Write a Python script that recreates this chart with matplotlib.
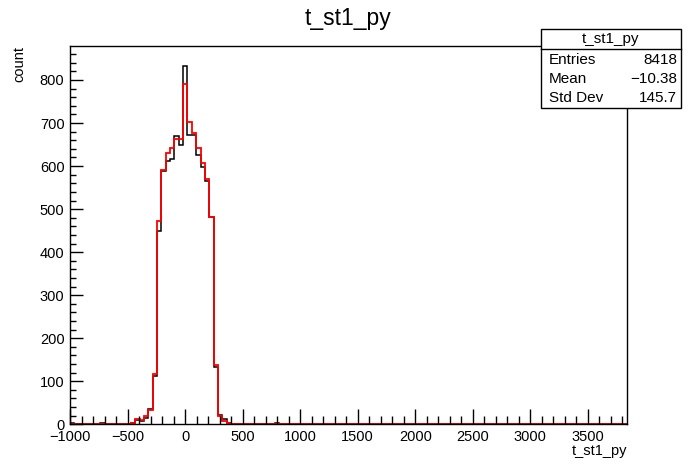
import numpy as np
import matplotlib
matplotlib.use("Agg")
import matplotlib.pyplot as plt
from matplotlib.patches import Rectangle
from matplotlib.ticker import MultipleLocator

plt.rcParams['font.family'] = ['Liberation Sans', 'DejaVu Sans']

# histogram binning: 128 bins from -1000 to 3840
x_min, x_max, n_bins = -1000, 3840, 128

# non-empty bins (index) and counts
bin_index = [0, 7, 14, 15, 16, 17, 18, 19, 20, 21, 22, 23, 24, 25, 26,
             27, 28, 29, 30, 31, 32, 33, 34, 35, 36, 37, 47]
black_counts = [2, 2, 3, 10, 7, 15, 36, 113, 448, 588, 611, 616, 671, 648, 833,
                672, 673, 625, 599, 565, 481, 132, 22, 12, 3, 1, 2]
red_counts = [1, 1, 4, 12, 9, 19, 33, 116, 472, 592, 630, 641, 662, 662, 791,
              702, 676, 641, 606, 569, 481, 138, 19, 8, 4, 1, 0]

stat_names = ["Entries", "Mean", "Std Dev"]
stat_values = ["8418", "\u221210.38", "145.7"]
hist_name = "t_st1_py"

edges = np.linspace(x_min, x_max, n_bins + 1)
h_black = np.zeros(n_bins)
h_red = np.zeros(n_bins)
h_black[bin_index] = black_counts
h_red[bin_index] = red_counts

fig = plt.figure(figsize=(6.96, 4.72), dpi=100)
W, H = 696.0, 472.0
ax = fig.add_axes([70 / W, 1 - 424.3 / H, (627 - 70) / W, (424.3 - 46) / H])

ax.stairs(h_black, edges, color='black', linewidth=1.1)
ax.stairs(h_red, edges, color='red', linewidth=1.3, clip_on=False)

ax.set_xlim(x_min, x_max)
ax.set_ylim(0, 879)

ax.xaxis.set_major_locator(MultipleLocator(500))
ax.xaxis.set_minor_locator(MultipleLocator(100))
ax.yaxis.set_major_locator(MultipleLocator(100))
ax.yaxis.set_minor_locator(MultipleLocator(20))
ax.tick_params(which='both', direction='in', top=False, right=False,
               labelsize=10.5, width=1)
ax.tick_params(axis='x', which='major', length=11, pad=4)
ax.tick_params(axis='x', which='minor', length=5.5)
ax.tick_params(axis='y', which='major', length=9, pad=4)
ax.tick_params(axis='y', which='minor', length=4.5)
for s in ax.spines.values():
    s.set_linewidth(1)

ax.set_xlabel(hist_name, fontsize=10.5)
ax.xaxis.set_label_coords(1.0, -0.052)
ax.xaxis.label.set_horizontalalignment('right')
ax.set_ylabel("count", fontsize=10.5)
ax.yaxis.set_label_coords(-0.078, 1.0)
ax.yaxis.label.set_horizontalalignment('right')

fig.text(348 / W, 1 - 18 / H, hist_name, ha='center', va='center', fontsize=16.5)

# stats box
bx0, bx1, by0, by1 = 541, 681, 29, 108
fig.patches.append(Rectangle((bx0 / W, 1 - by1 / H), (bx1 - bx0) / W, (by1 - by0) / H,
                             transform=fig.transFigure, facecolor='white',
                             edgecolor='black', linewidth=1, zorder=5))
fig.lines.append(plt.Line2D([bx0 / W, bx1 / W], [1 - 49 / H, 1 - 49 / H],
                            transform=fig.transFigure, color='black', linewidth=1, zorder=6))
fig.text((bx0 + bx1) / 2 / W, 1 - 39.5 / H, hist_name, ha='center', va='center',
         fontsize=11, zorder=7)
for i, (n, v) in enumerate(zip(stat_names, stat_values)):
    yy = 1 - (60 + i * 19) / H
    fig.text(549 / W, yy, n, ha='left', va='center', fontsize=11, zorder=7)
    fig.text(677 / W, yy, v, ha='right', va='center', fontsize=11, zorder=7)

fig.savefig("out.png", dpi=100)
